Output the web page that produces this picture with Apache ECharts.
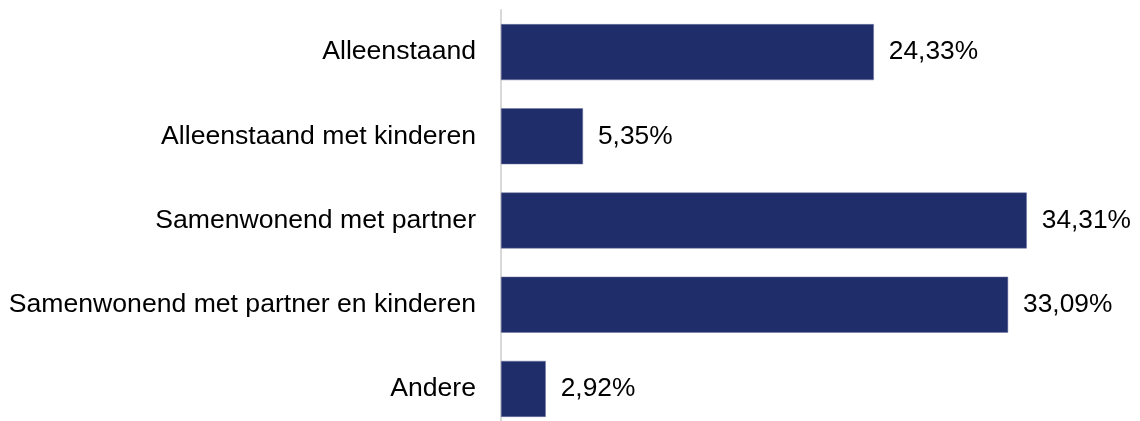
<!DOCTYPE html>
<html>
<head>
<meta charset="utf-8">
<script src="https://cdn.jsdelivr.net/npm/echarts@6/dist/echarts.min.js"></script>
<style>
  html, body { margin: 0; padding: 0; background: #fff; overflow: hidden; }
  /* the plot runs past the bottom edge of the window, like the original */
  #chart { width: 1140px; height: 432px; }
</style>
</head>
<body>
<div id="chart"></div>
<script>
// huishoudsamenstelling
const categories = [
  "Alleenstaand",
  "Alleenstaand met kinderen",
  "Samenwonend met partner",
  "Samenwonend met partner en kinderen",
  "Andere"
];
const shares = [24.33, 5.35, 34.31, 33.09, 2.92];

let chart = echarts.init(document.getElementById("chart"));
chart.setOption({
  animation: false,
  textStyle: { fontFamily: "Liberation Sans, Arial, sans-serif" },
  grid: {
    left: 501,
    top: 10,
    width: 613,
    height: 421
  },
  xAxis: {
    type: "value",
    min: 0,
    max: 40,
    show: false
  },
  yAxis: {
    type: "category",
    data: categories,
    inverse: true,
    axisLine: { show: true, lineStyle: { color: "#d9d9d9", width: 2 } },
    axisTick: { show: false },
    axisLabel: {
      margin: 25,
      fontSize: 26.6,
      color: "#000"
    }
  },
  series: [
    {
      type: "bar",
      data: shares,
      barCategoryGap: "33.5%",
      itemStyle: {
        color: "#1f2d6b",
        borderColor: "#6e76a0",
        borderWidth: 0.5
      },
      label: {
        show: true,
        position: "right",
        distance: 15,
        fontSize: 26.3,
        color: "#000",
        formatter: p => p.value.toFixed(2).replace(".", ",") + "%"
      }
    }
  ]
});
</script>
</body>
</html>
